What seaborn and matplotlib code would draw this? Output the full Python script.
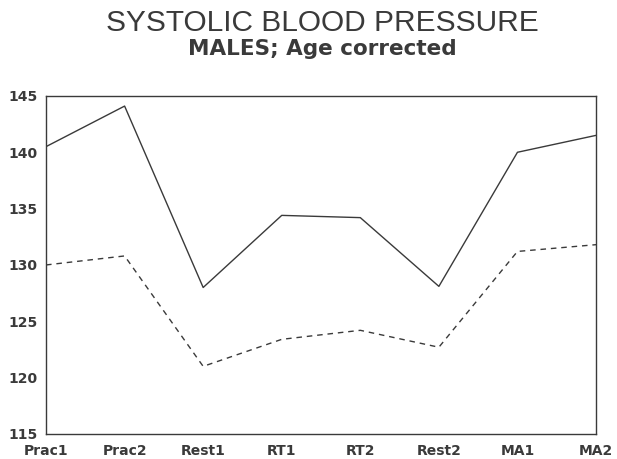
import matplotlib
matplotlib.use("Agg")
import matplotlib.pyplot as plt
import pandas as pd
import seaborn as sns

conditions = ["Prac1", "Prac2", "Rest1", "RT1", "RT2", "Rest2", "MA1", "MA2"]
upper = [140.5, 144.1, 128.0, 134.4, 134.2, 128.1, 140.0, 141.5]
lower = [130.0, 130.8, 121.0, 123.4, 124.2, 122.7, 131.2, 131.8]
y_ticks = [115, 120, 125, 130, 135, 140, 145]

df = pd.DataFrame({
    "pos": list(range(len(conditions))) * 2,
    "sbp": upper + lower,
    "series": ["upper"] * len(conditions) + ["lower"] * len(conditions),
})

sns.set_style("white")
plt.rcParams["font.family"] = ["DejaVu Sans"]

ink = "#3a3a3a"
fig = plt.figure(figsize=(6.17, 4.59), dpi=100)
ax = fig.add_axes([0.0746, 0.0545, 0.8914, 0.7365])

sns.lineplot(data=df, x="pos", y="sbp", style="series",
             dashes={"upper": "", "lower": (4, 3.5)},
             color=ink, linewidth=1.0, legend=False, ax=ax)

ax.set_xlim(0, len(conditions) - 1)
ax.set_ylim(115, 145)
ax.set_xticks(range(len(conditions)))
ax.set_xticklabels(conditions)
ax.set_yticks(y_ticks)
ax.set_xlabel("")
ax.set_ylabel("")

for s in ax.spines.values():
    s.set_color(ink)
    s.set_linewidth(1.0)

ax.tick_params(axis="x", direction="in", length=5, width=1, color=ink,
               labelsize=10, labelcolor=ink, pad=7)
ax.tick_params(axis="y", direction="out", length=4, width=1, color=ink,
               labelsize=10, labelcolor=ink, pad=2)
for lab in ax.get_xticklabels() + ax.get_yticklabels():
    lab.set_fontweight("bold")

fig.text(0.522, 0.9325, "SYSTOLIC BLOOD PRESSURE", ha="center", va="baseline",
         fontsize=21.5, color=ink, family=["Liberation Sans", "DejaVu Sans"])
fig.text(0.522, 0.880, "MALES; Age corrected", ha="center", va="baseline",
         fontsize=15.5, fontweight="bold", color=ink)

fig.savefig("out.png", dpi=100)
